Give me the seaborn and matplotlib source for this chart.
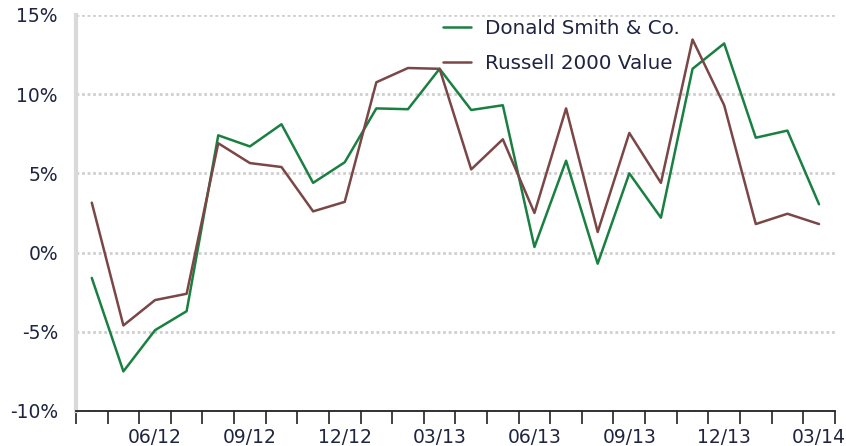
import numpy as np
import pandas as pd
import matplotlib
matplotlib.use("Agg")
import matplotlib.pyplot as plt
import seaborn as sb
from matplotlib.ticker import FixedLocator, FuncFormatter

months = ['04/12', '05/12', '06/12', '07/12', '08/12', '09/12', '10/12', '11/12',
          '12/12', '01/13', '02/13', '03/13', '04/13', '05/13', '06/13', '07/13',
          '08/13', '09/13', '10/13', '11/13', '12/13', '01/14', '02/14', '03/14']
smith = [-1.6, -7.5, -4.9, -3.7, 7.4, 6.7, 8.1, 4.4, 5.7, 9.1, 9.05, 11.6,
         9.0, 9.3, 0.35, 5.8, -0.7, 5.0, 2.2, 11.6, 13.2, 7.25, 7.7, 3.05]
russell = [3.15, -4.6, -3.0, -2.6, 6.9, 5.65, 5.4, 2.6, 3.2, 10.75, 11.65, 11.6,
           5.25, 7.15, 2.5, 9.1, 1.3, 7.55, 4.4, 13.45, 9.3, 1.8, 2.45, 1.8]
series_names = ['Donald Smith & Co.', 'Russell 2000 Value']
label_months = ['06/12', '09/12', '12/12', '03/13', '06/13', '09/13', '12/13', '03/14']
y_ticks = [-10, -5, 0, 5, 10, 15]

df = pd.DataFrame({
    'month': months * 2,
    'ret': smith + russell,
    'series': [series_names[0]] * len(months) + [series_names[1]] * len(months),
})

sb.set_style("white")
plt.rcParams['font.family'] = ['DejaVu Sans']
text_col = '#1f2440'

fig = plt.figure(figsize=(8.46, 4.46), dpi=100)
ax = fig.add_axes([0.0898, 0.0785, 0.897, 0.888])

sb.lineplot(data=df, x='month', y='ret', hue='series', sort=False,
            palette=['#198041', '#7a4646'], linewidth=1.8, ax=ax)

ax.set_xlim(-0.5, len(months) - 0.5)
ax.set_ylim(-10, 15)
ax.set_yticks(y_ticks)
ax.yaxis.set_major_formatter(FuncFormatter(lambda v, p: f"{v:.0f}%"))
ax.tick_params(axis='y', length=0, pad=13, labelsize=13.5, labelcolor=text_col)

pos = [months.index(m) for m in label_months]
ax.xaxis.set_major_locator(FixedLocator(pos))
ax.set_xticklabels(label_months)
ax.xaxis.set_minor_locator(FixedLocator(np.arange(-0.5, len(months), 1.0)))
ax.tick_params(axis='x', which='major', bottom=False, length=0, pad=12,
               labelsize=13.5, labelcolor=text_col)
ax.tick_params(axis='x', which='minor', bottom=True, length=9, width=1.2,
               direction='out', color='#222222')

ax.grid(axis='y', color='#cfcfcf', linestyle=(0, (1, 1)), linewidth=2)
ax.set_axisbelow(True)
ax.set_xlabel('')
ax.set_ylabel('')

for s in ['top', 'right']:
    ax.spines[s].set_visible(False)
ax.spines['left'].set_color('#d9d9d9')
ax.spines['left'].set_linewidth(3)
ax.spines['bottom'].set_color('#222222')
ax.spines['bottom'].set_linewidth(1.3)

leg = ax.legend(loc='upper left', bbox_to_anchor=(0.4705, 1.016), frameon=False,
                fontsize=14.3, borderpad=0, handlelength=1.4, handletextpad=0.7,
                labelspacing=0.82)
for t in leg.get_texts():
    t.set_color(text_col)

fig.savefig('out.png', dpi=100)
